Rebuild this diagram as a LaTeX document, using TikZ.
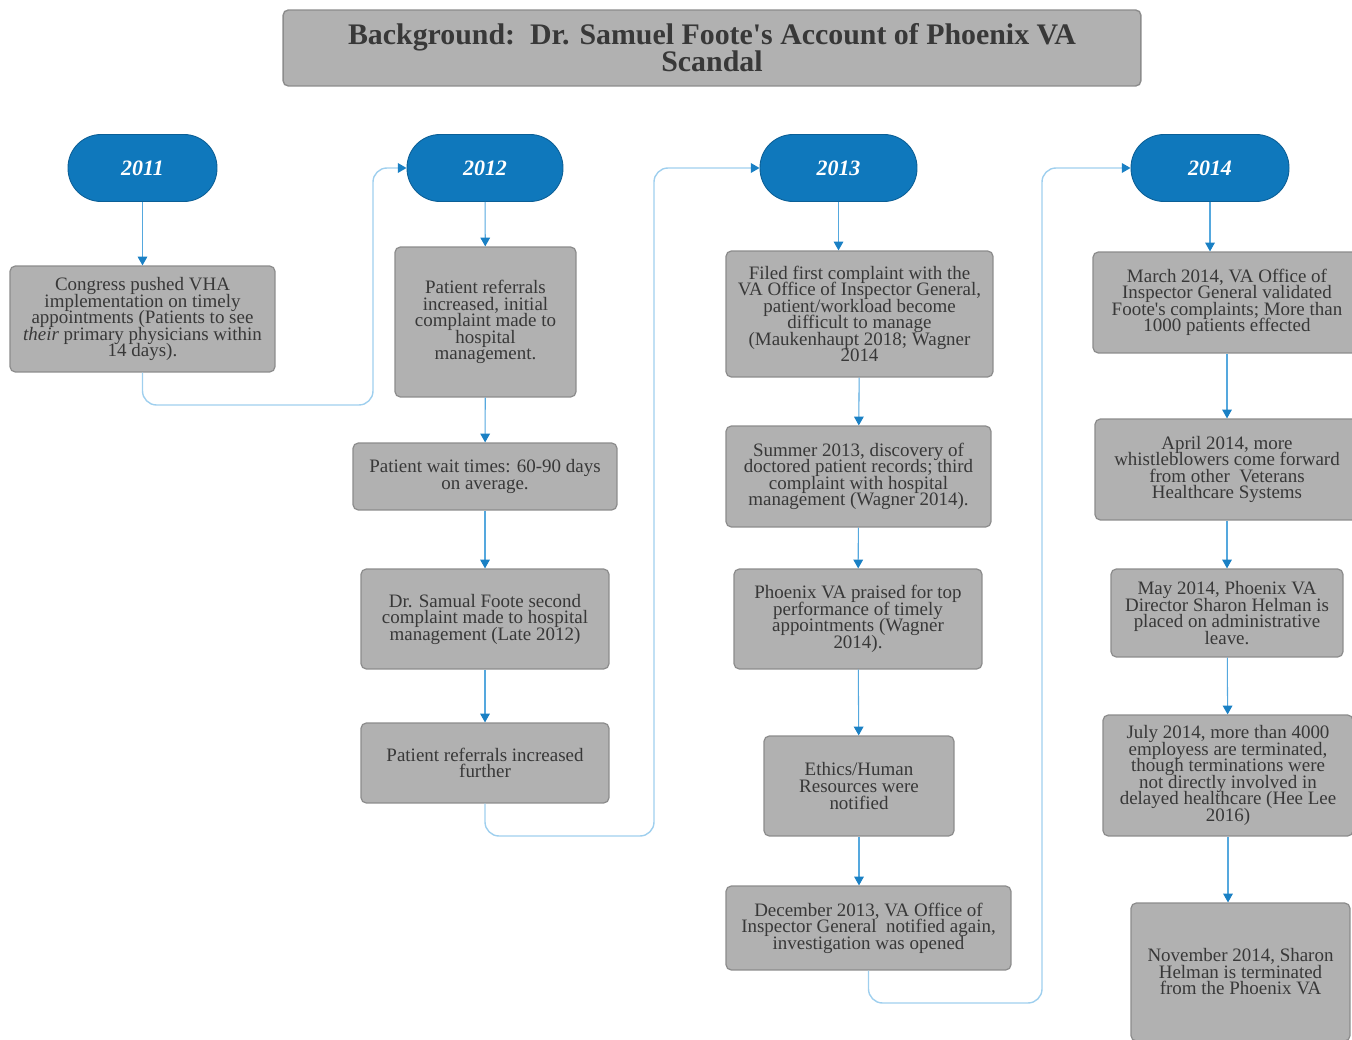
\documentclass[tikz,border=0pt]{standalone}
\usepackage{fontspec}
\setmainfont{Liberation Serif}
\usetikzlibrary{arrows.meta}

\definecolor{boxgray}{HTML}{B1B1B1}
\definecolor{boxline}{HTML}{8C8C8C}
\definecolor{inkgray}{HTML}{383838}
\definecolor{yearblue}{HTML}{0F78BC}
\definecolor{yearline}{HTML}{0B5F96}
\definecolor{flowblue}{HTML}{55A8DE}
\definecolor{linkblue}{HTML}{9FCFEE}
\definecolor{tipblue}{HTML}{1A80C4}

\newcommand{\eventfont}{\fontsize{10.8}{9.4}\selectfont\lineskiplimit=-20pt\relax}
\newcommand{\headfont}{\fontsize{17}{15.5}\selectfont\bfseries\lineskiplimit=-20pt\relax}

\begin{document}
\begin{tikzpicture}[
    x=0.02cm, y=-0.02cm,
    event/.style={rectangle, draw=boxline, fill=boxgray, line width=0.7pt, rounded corners=3pt,
        align=center, text=inkgray, inner sep=2pt, font=\eventfont},
    year/.style={rectangle, draw=yearline, fill=yearblue, line width=0.5pt, rounded corners=0.66cm,
        minimum height=1.34cm, text=white, font=\fontsize{12.5}{12}\selectfont\bfseries\itshape},
    title/.style={rectangle, draw=boxline, fill=boxgray, line width=0.8pt, rounded corners=3pt,
        minimum width=17.16cm, minimum height=1.52cm, align=center, text=inkgray, font=\headfont},
    flow/.style={draw=flowblue, line width=0.6pt, -{Triangle[width=5.5pt,length=5pt,color=tipblue]}},
    backlink/.style={draw=linkblue, line width=0.8pt, rounded corners=8pt,
        -{Triangle[width=5.5pt,length=5pt,color=tipblue]}}
]
\useasboundingbox (0,0) rectangle (1352,1040);

% Title
\node[title] (head) at (712,48) {Background:\ \ Dr. Samuel Foote\textquotesingle s Account of Phoenix VA\\Scandal};

% Years
\node[year, minimum width=2.98cm] (yr11) at (142.5,168) {2011};
\node[year, minimum width=3.12cm] (yr12) at (485,168) {2012};
\node[year, minimum width=3.14cm] (yr13) at (838.5,168) {2013};
\node[year, minimum width=3.16cm] (yr14) at (1210,168) {2014};

% 2011
\node[event, minimum width=5.3cm, minimum height=2.12cm] (ev11a) at (142.5,319) {Congress pushed VHA\\implementation on timely\\appointments (Patients to see\\\textit{their} primary physicians within\\14 days).};

% 2012
\node[event, minimum width=3.62cm, minimum height=3cm] (ev12a) at (485.5,322) {Patient referrals\\increased, initial\\complaint made to\\hospital\\management.};
\node[event, minimum width=5.28cm, minimum height=1.34cm] (ev12b) at (485,476.5) {Patient wait times: 60-90 days\\on average.};
\node[event, minimum width=4.96cm, minimum height=2cm] (ev12c) at (485,619) {Dr. Samual Foote second\\complaint made to hospital\\management (Late 2012)};
\node[event, minimum width=4.96cm, minimum height=1.6cm] (ev12d) at (485,763) {Patient referrals increased\\further};

% 2013
\node[event, minimum width=5.34cm, minimum height=2.52cm] (ev13a) at (859.5,314) {Filed first complaint with the\\VA Office of Inspector General,\\patient/workload become\\difficult to manage\\(Maukenhaupt 2018; Wagner\\2014};
\node[event, minimum width=5.3cm, minimum height=2.02cm] (ev13b) at (858.5,476.5) {Summer 2013, discovery of\\doctored patient records; third\\complaint with hospital\\management (Wagner 2014).};
\node[event, minimum width=4.96cm, minimum height=2cm] (ev13c) at (858,619) {Phoenix VA praised for top\\performance of timely\\appointments (Wagner\\2014).};
\node[event, minimum width=3.8cm, minimum height=2cm] (ev13d) at (859,786) {Ethics/Human\\Resources were\\notified};
\node[event, minimum width=5.7cm, minimum height=1.68cm] (ev13e) at (868.5,928) {December 2013, VA Office of\\Inspector General\ \ notified again,\\investigation was opened};

% 2014
\node[event, minimum width=5.36cm, minimum height=2.02cm] (ev14a) at (1227,302.5) {March 2014, VA Office of\\Inspector General validated\\Foote\textquotesingle s complaints; More than\\1000 patients effected};
\node[event, minimum width=5.28cm, minimum height=2.02cm] (ev14b) at (1227,469.5) {April 2014, more\\whistleblowers come forward\\from other\ \ Veterans\\Healthcare Systems};
\node[event, minimum width=4.64cm, minimum height=1.76cm] (ev14c) at (1227,613) {May 2014, Phoenix VA\\Director Sharon Helman is\\placed on administrative\\leave.};
\node[event, minimum width=5cm, minimum height=2.42cm] (ev14d) at (1228,775.5) {July 2014, more than 4000\\employess are terminated,\\though terminations were\\not directly involved in\\delayed healthcare (Hee Lee\\2016)};
\node[event, minimum width=4.38cm, minimum height=2.76cm] (ev14e) at (1240.5,972) {November 2014, Sharon\\Helman is terminated\\from the Phoenix VA};

% Bends of the links between years
\coordinate (bend1) at (373,405);
\coordinate (bend2) at (654,836);
\coordinate (bend3) at (1042,1003);

% Arrows within years
\draw[flow] (yr11) -- (ev11a);
\draw[flow] (yr12) -- (ev12a);
\draw[flow] (ev12a) -- (ev12b);
\draw[flow] (ev12b) -- (ev12c);
\draw[flow] (ev12c) -- (ev12d);
\draw[flow] (yr13.south) -- (yr13.south |- ev13a.north);
\draw[flow] (ev13a) -- (ev13b);
\draw[flow] (ev13b) -- (ev13c);
\draw[flow] (ev13c) -- (ev13d);
\draw[flow] (ev13d.south) -- (ev13d.south |- ev13e.north);
\draw[flow] (yr14.south) -- (yr14.south |- ev14a.north);
\draw[flow] (ev14a) -- (ev14b);
\draw[flow] (ev14b) -- (ev14c);
\draw[flow] (ev14c) -- (ev14d);
\draw[flow] (ev14d.south) -- (ev14d.south |- ev14e.north);

% Links between years
\draw[backlink] (ev11a.south) |- (bend1) |- (yr12.west);
\draw[backlink] (ev12d.south) |- (bend2) |- (yr13.west);
\draw[backlink] (ev13e.south) |- (bend3) |- (yr14.west);

\end{tikzpicture}
\end{document}
